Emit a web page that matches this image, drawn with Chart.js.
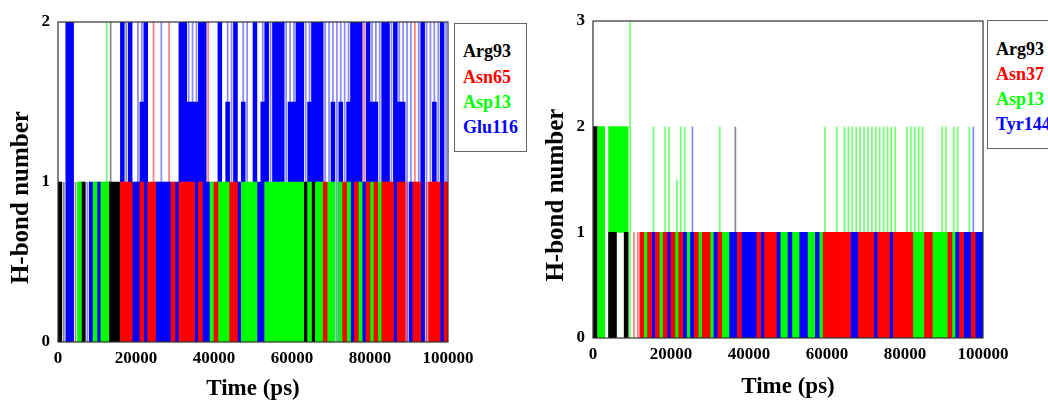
<!DOCTYPE html>
<html><head><meta charset="utf-8">
<script src="https://cdn.jsdelivr.net/npm/chart.js@4.4.1/dist/chart.umd.min.js"></script>
<style>
html,body{margin:0;padding:0;background:#fff;width:1048px;height:403px;overflow:hidden;position:relative;}
.panel{position:absolute;top:0;height:403px;}
.legend{position:absolute;border:1px solid #666;background:#fff;font:bold 18px "Liberation Serif","Times New Roman",serif;box-sizing:border-box;}
.legend div{position:absolute;left:8px;line-height:20px;white-space:nowrap;}
</style></head><body>
<div class="panel" style="left:0;width:490px"><canvas id="c1"></canvas></div>
<div class="panel" style="left:530px;width:518px"><canvas id="c2"></canvas></div>
<div class="legend" id="lg1" style="left:454px;top:23px;width:73px;height:129px"></div>
<div class="legend" id="lg2" style="left:987px;top:20px;width:80px;height:129px"></div>
<script>
// ---- time axis (ps): centre of each 1000-ps sampling bin ----
const timeBins = Array.from({length: 100}, (_, i) => i * 1000 + 500);
const xTicks = [0, 20000, 40000, 60000, 80000, 100000];

// ---- left panel: H-bond number per residue, per 1000-ps bin ----
// "...Brief" arrays: short-lived bonds inside a bin (drawn as thin lines)
const leftNames = ["Arg93", "Asn65", "Asp13", "Glu116"];
const arg93Left = [
1,0,0,0,0,0,1,0,0,0, 0,0,0,1,1,1,0,0,0,0, 0,0,0,0,0,0,0,0,0,0, 0,0,0,0,0,0,0,0,0,0,
0,0,0,0,0,0,0,0,0,0, 0,0,0,0,0,0,0,0,0,0, 0,0,0,1,0,1,0,0,0,0, 0,0,0,0,0,0,0,0,0,0,
0,0,0,0,0,0,0,0,0,0, 0,0,0,0,0,0,0,0,0,0];
const arg93LeftBrief = [
0,1,0,0,1,0,0,0,0,0, 0,0,0,2,0,0,0,2,0,0, 0,0,0,0,0,0,0,0,0,0, 0,0,0,0,0,1,0,0,0,0,
0,0,0,0,0,0,0,0,0,0, 0,0,0,0,0,0,0,0,0,0, 0,0,0,0,0,0,0,0,0,0, 0,0,0,0,0,0,0,0,0,0,
0,0,0,0,0,0,0,0,0,0, 0,0,0,0,0,0,0,0,0,0];
const asn65Left = [
0,0,0,0,0,0,0,0,0,0, 0,0,0,0,0,0,1,1,1,0, 0,1,0,1,1,0,0,0,0,1, 0,1,1,1,1,0,1,0,0,0,
1,0,0,0,1,1,0,0,0,0, 0,0,0,0,0,0,0,0,0,0, 0,0,0,0,0,0,0,0,1,0, 0,0,0,1,0,0,1,0,0,1,
0,1,0,1,1,1,0,1,1,0, 0,1,1,0,0,1,1,1,0,1];
const asn65LeftBrief = [
0,0,0,0,0,0,0,0,0,0, 0,0,0,0,0,0,0,0,0,0, 0,0,0,0,2,0,0,0,2,0, 0,0,0,0,0,0,0,0,2,0,
0,0,0,0,0,0,0,0,0,0, 0,0,0,0,0,0,0,0,0,0, 0,0,0,0,0,0,0,0,0,0, 0,0,0,0,0,0,0,0,2,0,
0,0,0,0,0,0,0,0,0,1, 0,2,0,0,1,0,0,0,0,0];
const asp13Left = [
0,0,0,0,0,1,0,0,0,1, 0,1,1,0,0,0,0,0,0,0, 0,0,0,0,0,0,0,0,0,0, 0,0,0,0,0,0,0,0,0,1,
0,1,1,1,0,0,0,1,1,1, 1,0,0,1,1,1,1,1,1,1, 1,1,1,0,1,0,1,1,0,1, 1,0,1,0,1,0,0,1,0,0,
1,0,1,0,0,0,0,0,0,0, 0,0,0,0,0,0,0,0,0,0];
const asp13LeftBrief = [
0,0,0,0,0,0,0,0,0,0, 0,0,2,0,0,0,0,0,0,0, 0,0,0,0,0,0,0,0,0,0, 0,0,0,0,0,0,0,0,0,0,
0,0,0,0,0,0,0,0,0,0, 0,0,0,0,0,0,0,0,0,0, 0,0,0,0,0,0,0,0,0,0, 0,1,0,0,0,0,0,0,0,0,
0,0,0,0,0,0,0,0,0,0, 0,0,0,0,0,0,0,0,0,0];
const glu116Left = [
0,0,2,2,0,0,0,0,1,0, 1,0,0,0,0,0,2,0,2,1, 1,1.5,2,0,0,1,1,1,1,0, 1,2,2,1.5,1.5,1.5,2,2,1,0,
0,2,0,1.5,0,2,1,1.5,0,0, 2,1,1.5,2,0,2,2,2,0,1.5, 1.5,2,2,0,1.5,2,2,2,0,0, 1.5,0,1.5,0,1.5,2,2,2,1,2,
1.5,1.5,0,2,2,0,2,1.5,1.5,0, 1,0,0,2,0,0,1.5,0,2,0];
const glu116LeftBrief = [
0,0,0,0,0,0,0,1,0,0, 0,0,0,0,0,0,0,0,0,0, 2,2,0,0,0,0,2,0,0,0, 0,0,0,2,2,2,0,0,0,0,
0,0,0,2,2,0,0,2,2,0, 0,0,2,0,2,0,0,0,2,2, 2,0,0,2,2,0,0,0,2,2, 2,2,2,2,2,0,0,0,0,0,
2,2,2,0,0,2,0,2,2,2, 2,0,2,0,2,2,2,2,0,2];

// ---- right panel ([1,2] = bond count switching between 1 and 2 only) ----
const rightNames = ["Arg93", "Asn37", "Asp13", "Tyr144"];
const arg93Right = [
2,0,0,0,1,1,0,0,1,0, 0,0,0,0,0,0,0,0,0,0, 0,0,0,0,0,0,0,0,0,0, 0,0,0,0,0,0,0,0,0,0,
0,0,0,0,0,0,0,0,0,0, 0,0,0,0,0,0,0,0,0,0, 0,0,0,0,0,0,0,0,0,0, 0,0,0,0,0,0,0,0,0,0,
0,0,0,0,0,0,0,0,0,0, 0,0,0,0,0,0,0,0,0,0];
const arg93RightBrief = [
0,0,0,0,0,0,0,0,0,0, 0,0,0,0,0,0,0,0,0,0, 0,0,0,0,0,0,0,0,0,0, 0,0,0,0,0,0,2,0,0,0,
0,0,0,0,0,0,0,0,0,0, 0,0,0,0,0,0,0,0,0,0, 0,0,0,0,0,0,0,0,0,0, 0,0,0,0,0,0,0,0,0,0,
0,0,0,0,0,0,0,0,0,0, 0,0,0,0,0,0,0,0,0,0];
const asn37Right = [
0,0,0,0,0,0,0,0,0,0, 0,0,1,0,1,0,1,0,1,0, 1,0,1,0,0,0,1,0,1,1, 0,0,1,0,0,0,0,1,0,0,
0,0,1,0,1,1,1,0,0,0, 0,0,0,0,0,0,0,0,0,1, 1,1,1,1,1,1,0,0,1,1, 1,1,0,1,1,1,0,1,1,1,
1,1,0,0,0,1,1,0,0,0, 0,1,0,0,1,0,0,1,0,0];
const asn37RightBrief = [
0,0,0,0,0,0,0,0,0,0, 1,1,0,0,0,0,0,0,0,0, 0,0,0,0,0,0,0,0,0,0, 0,0,0,0,0,0,0,0,0,0,
0,0,0,0,0,0,0,0,0,0, 0,0,0,0,0,0,0,0,0,0, 0,0,0,0,0,0,0,0,0,0, 0,0,0,0,0,0,0,0,0,0,
0,0,0,0,0,0,0,0,0,0, 0,0,0,0,0,0,0,0,0,0];
const asp13Right = [
0,2,2,0,2,2,[1,2],[1,2],2,0, 0,0,0,1,0,0,0,1,0,0, 0,1,0,0,1,0,0,1,0,0, 1,0,0,1,1,0,0,0,0,0,
0,0,0,0,0,0,0,0,1,1, 0,1,1,0,0,1,1,0,1,0, 0,0,0,0,0,0,0,0,0,0, 0,0,0,0,0,0,0,0,0,0,
0,0,1,1,1,0,0,1,1,1, 1,0,1,0,0,0,0,0,0,0];
const asp13RightBrief = [
0,0,0,0,0,0,0,0,0,3, 0,0,0,0,0,2,0,0,2,2, 0,1.5,2,2,0,0,0,0,0,0, 0,0,2,0,0,0,0,0,0,0,
0,0,0,0,0,0,0,0,0,0, 0,0,0,0,0,0,0,0,0,2, 0,0,2,0,2,2,2,2,2,2, 2,2,2,2,2,2,2,2,0,0,
2,2,2,2,2,0,0,0,0,2, 2,0,2,2,0,0,2,0,0,0];
const tyr144Right = [
0,0,0,0,0,0,0,0,0,0, 0,0,0,0,0,1,0,0,0,1, 0,0,0,1,0,1,0,0,0,0, 0,1,0,0,0,1,1,0,1,1,
1,1,0,1,0,0,0,1,0,0, 1,0,0,1,1,0,0,1,0,0, 0,0,0,0,0,0,1,1,0,0, 0,0,1,0,0,0,1,0,0,0,
0,0,0,0,0,0,0,0,0,0, 0,0,0,1,0,1,1,0,1,1];
const tyr144RightBrief = [
0,0,0,0,0,0,0,0,0,0, 0,0,0,0,0,0,0,0,0,0, 0,0,0,0,0,2,0,0,0,0, 0,0,0,0,0,0,0,0,0,0,
0,0,0,0,0,0,0,0,0,0, 0,0,0,0,0,0,0,0,0,0, 0,0,0,0,0,0,0,0,0,0, 0,0,0,0,0,0,0,0,0,0,
0,0,0,0,0,0,0,0,0,0, 0,0,0,0,0,0,0,2,0,0];

const colours = {black: "#000000", red: "#ff0000", green: "#00ff00", blue: "#0000ff"};
const faint = {black: "rgba(0,0,0,0.45)", red: "rgba(255,0,0,0.5)", green: "rgba(0,255,0,0.55)", blue: "rgba(0,0,255,0.45)"};
const serif = '"Liberation Serif","Times New Roman",serif';

function pts(values) {
  return values.map((v, i) => ({x: timeBins[i], y: v === 0 ? null : v}));
}
function ds(label, values, colour, order, thin) {
  return {label, data: pts(values), backgroundColor: colour, borderWidth: 0,
          barPercentage: thin ? 0.45 : 1, categoryPercentage: 1, grouped: false, order};
}
const frame = {id: "frame", afterDatasetsDraw(chart) {
  const {ctx, chartArea: a} = chart;
  ctx.save(); ctx.strokeStyle = "#333"; ctx.lineWidth = 1.2;
  ctx.strokeRect(a.left, a.top, a.right - a.left, a.bottom - a.top);
  ctx.restore();
}};

function panel(id, datasets, yMax, p) {
  new Chart(document.getElementById(id), {
    type: "bar",
    data: {datasets},
    options: {
      responsive: true, maintainAspectRatio: false, animation: false,
      layout: {padding: {left: 0, right: p.right, top: p.top, bottom: 0}},
      plugins: {legend: {display: false}, tooltip: {enabled: false}},
      scales: {
        x: {type: "linear", min: 0, max: 100000, offset: false,
            afterBuildTicks: s => { s.ticks = xTicks.map(v => ({value: v})); },
            afterFit: s => { s.height = p.xh; s.paddingLeft = 0; s.paddingRight = 0; },
            grid: {display: false, drawTicks: false}, border: {display: false},
            ticks: {autoSkip: false, maxRotation: 0, padding: 6, color: "#000",
                    font: {family: serif, size: 17, weight: "bold"}, callback: v => String(v)},
            title: {display: true, text: "Time (ps)", color: "#000", padding: {top: 0, bottom: p.xtb},
                    font: {family: serif, size: 23, weight: "bold"}}},
        y: {min: 0, max: yMax,
            afterFit: s => { s.width = p.yw; s.paddingTop = 0; s.paddingBottom = 0; },
            grid: {display: false, drawTicks: false}, border: {display: false},
            ticks: {stepSize: 1, padding: 8, color: "#000",
                    font: {family: serif, size: 17, weight: "bold"}, callback: v => String(v)},
            title: {display: true, text: "H-bond number     ", color: "#000", padding: {top: p.ytp, bottom: 0},
                    font: {family: serif, size: 25, weight: "bold"}}}
      }
    },
    plugins: [frame]
  });
}

panel("c1", [
  ds(leftNames[3], glu116LeftBrief, faint.blue, 9, true),
  ds(leftNames[1], asn65LeftBrief, faint.red, 8, true),
  ds(leftNames[2], asp13LeftBrief, faint.green, 7, true),
  ds(leftNames[0], arg93LeftBrief, faint.black, 6, true),
  ds(leftNames[3], glu116Left, colours.blue, 4),
  ds(leftNames[0], arg93Left, colours.black, 3),
  ds(leftNames[2], asp13Left, colours.green, 2),
  ds(leftNames[1], asn65Left, colours.red, 1)
], 2, {right: 42, top: 22, xh: 61, xtb: 0, yw: 58, ytp: 7});

panel("c2", [
  ds(rightNames[2], asp13RightBrief, faint.green, 9, true),
  ds(rightNames[0], arg93RightBrief, faint.black, 8, true),
  ds(rightNames[3], tyr144RightBrief, faint.blue, 7, true),
  ds(rightNames[1], asn37RightBrief, faint.red, 6, true),
  ds(rightNames[2], asp13Right, colours.green, 4),
  ds(rightNames[0], arg93Right, colours.black, 3),
  ds(rightNames[3], tyr144Right, colours.blue, 2),
  ds(rightNames[1], asn37Right, colours.red, 1)
], 3, {right: 65, top: 21, xh: 65, xtb: 2, yw: 63, ytp: 12});

function legend(id, names, tops) {
  const box = document.getElementById(id);
  const cols = [colours.black, colours.red, colours.green, colours.blue];
  names.forEach((n, i) => {
    const d = document.createElement("div");
    d.textContent = n; d.style.color = cols[i]; d.style.top = tops[i] + "px";
    box.appendChild(d);
  });
}
legend("lg1", leftNames, [17, 43, 68, 93]);
legend("lg2", rightNames, [18, 43, 68, 93]);
</script>
</body></html>
